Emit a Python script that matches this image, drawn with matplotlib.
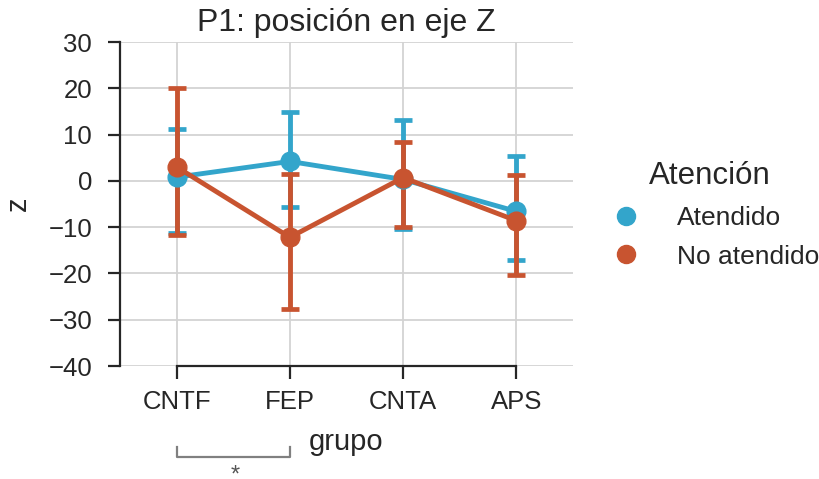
import matplotlib
matplotlib.use("Agg")
import matplotlib.pyplot as plt
import matplotlib.transforms as mtransforms
from matplotlib.lines import Line2D
import numpy as np

plt.rcParams['font.family'] = ['Liberation Sans', 'DejaVu Sans']

# Data: mean Z position per group with 95% CI bounds
grupos = ["CNTF", "FEP", "CNTA", "APS"]
atendido_mean = [0.8, 4.2, 0.3, -6.6]
atendido_low = [-11.2, -5.7, -10.4, -17.1]
atendido_high = [11.1, 14.9, 13.1, 5.3]
no_atendido_mean = [3.0, -12.2, 0.7, -8.6]
no_atendido_low = [-11.8, -27.7, -9.9, -20.3]
no_atendido_high = [20.1, 1.5, 8.4, 1.2]
yticks = [-40, -30, -20, -10, 0, 10, 20, 30]

azul = "#33a5cb"
rojo = "#c85430"
texto = "#262626"

fig = plt.figure(figsize=(8.2, 4.79), dpi=100)
ax = fig.add_axes([120 / 820, 1 - 366 / 479, (573 - 120) / 820, (366 - 42) / 479])

x = np.arange(len(grupos))
series = [
    ("Atendido", atendido_mean, atendido_low, atendido_high, azul),
    ("No atendido", no_atendido_mean, no_atendido_low, no_atendido_high, rojo),
]
for label, m, lo, hi, c in series:
    m = np.array(m)
    yerr = [m - np.array(lo), np.array(hi) - m]
    ax.errorbar(x, m, yerr=yerr, color=c, lw=3.5, marker="o", ms=13.5,
                capsize=6.5, capthick=3.4, elinewidth=3.5, zorder=3)

ax.set_xlim(-0.5, len(grupos) - 0.5)
ax.set_ylim(-40, 30)
ax.set_xticks(x)
ax.set_xticklabels(grupos)
ax.set_yticks(yticks)
ax.set_yticklabels([f"{t}".replace("-", "\u2212") for t in yticks])
ax.grid(True, color="#d3d3d3", lw=1.3, zorder=0)
ax.set_axisbelow(True)

for s in ["top", "right"]:
    ax.spines[s].set_visible(False)
for s in ["left", "bottom"]:
    ax.spines[s].set_color(texto)
    ax.spines[s].set_linewidth(1.6)
ax.spines["bottom"].set_bounds(0, len(grupos) - 1)
ax.spines["left"].set_bounds(-40, 30)

ax.tick_params(axis="both", direction="out", length=9, width=1.6,
               color=texto, labelcolor=texto, labelsize=18.5)
ax.tick_params(axis="x", pad=8)
ax.tick_params(axis="y", pad=11)

ax.set_title("P1: posición en eje Z", fontsize=23, color=texto, pad=8)
ax.set_xlabel("grupo", fontsize=21, color=texto, labelpad=10)
ax.set_ylabel("z", fontsize=21, color=texto, labelpad=12)

# Significance bracket between CNTF and FEP
trans = mtransforms.blended_transform_factory(ax.transData, ax.transAxes)
ax.plot([0, 0, 1, 1], [-0.25, -0.281, -0.281, -0.25], transform=trans,
        color="#808080", lw=1.6, clip_on=False)
ax.text(0.52, -0.338, "*", transform=trans, ha="center", va="center",
        fontsize=17, color="#555555")

handles = [Line2D([], [], color=c, marker="o", ls="", ms=13) for _, _, _, _, c in series]
leg = fig.legend(handles, [s[0] for s in series], title="Atención",
                 loc="center left", bbox_to_anchor=(581 / 820, 1 - 215 / 479),
                 frameon=False, fontsize=19, title_fontsize=22.5,
                 handletextpad=0.95, labelspacing=0.55, borderpad=0.2)
for t in leg.get_texts():
    t.set_color(texto)
leg.get_title().set_color(texto)

fig.savefig("out.png", dpi=100)
